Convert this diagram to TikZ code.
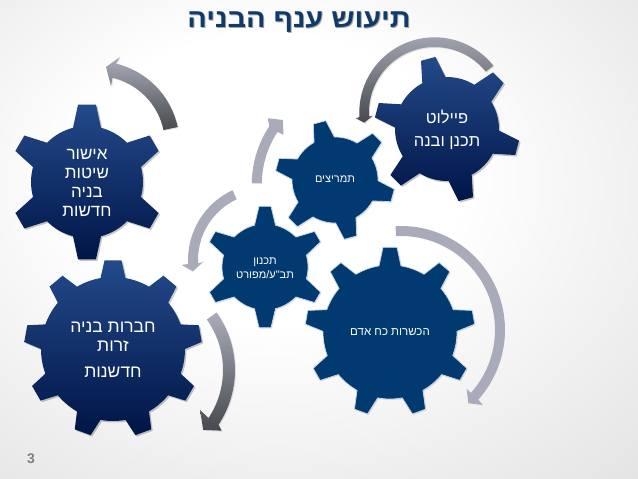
\documentclass[tikz,border=0pt]{standalone}
\usepackage{fontspec}
\setmainfont{Liberation Sans}
\newfontfamily\hebfont[Script=Hebrew]{Liberation Sans}
\newfontfamily\titlefont[Script=Hebrew,FakeStretch=1.11]{Liberation Sans}
\TeXXeTstate=1
\newcommand{\hb}[1]{\beginR #1\endR}
\definecolor{navyflat}{HTML}{003A70}
\definecolor{geartop}{HTML}{234A8A}
\definecolor{gearbot}{HTML}{001547}
\definecolor{arrlight}{HTML}{A9ABBA}
\definecolor{arrtop}{HTML}{AAACBA}
\definecolor{arrbot}{HTML}{47494E}
\definecolor{titleblue}{HTML}{0F3A6C}
\definecolor{gearedge}{HTML}{C8D8EA}
\pgfdeclareradialshading{bgsh}{\pgfpoint{-5bp}{8bp}}{color(0bp)=(white);color(15bp)=(white);color(50bp)=(black!15);color(75bp)=(black!20)}
% [style]{x}{y}{body r}{tip r}{start}{n}{tip half}{base half}
\newcommand{\gearplate}[9][]{%
  \pgfmathtruncatemacro{\gearlast}{#7-1}%
  \pgfmathsetmacro{\gearstep}{360/#7}%
  \pgfmathsetmacro{\geardb}{asin(#9/#4)}%
  \pgfmathsetmacro{\geardt}{atan(#8/#5)}%
  \path[#1,shift={(#2,#3)},y=1pt] (#6-\geardb:#4pt)
    \foreach \k in {0,...,\gearlast} {
      -- ({#6+\k*\gearstep-\geardt}:#5pt) -- ({#6+\k*\gearstep+\geardt}:#5pt)
      -- ({#6+\k*\gearstep+\geardb}:#4pt)
      arc[start angle={#6+\k*\gearstep+\geardb},end angle={#6+(\k+1)*\gearstep-\geardb},radius=#4pt]
    } -- cycle;%
}
% [style]{cx}{cy}{r outer}{r inner}{from}{to}{head points, outer barb to inner barb}
\newcommand{\arcarrow}[8][]{%
  \path[#1,shift={(#2,#3)},y=1pt] (#6:#4pt)
    arc[start angle=#6,end angle=#7,radius=#4pt] -- #8 -- (#7:#5pt)
    arc[start angle=#7,end angle=#6,radius=#5pt] -- cycle;%
}
\tikzset{
  shadowgear/.style={fill=black,opacity=.22},
  gradgear/.style={top color=geartop,bottom color=gearbot},
  flatgear/.style={fill=navyflat,draw=gearedge,line width=.7pt},
  geartext/.style={text=white,align=center,font=\hebfont},
  flatarrow/.style={fill=arrlight},
  gradarrow/.style={top color=arrtop,bottom color=arrbot},
  smallshadow/.style={fill=black,opacity=.10}
}
\begin{document}
\begin{tikzpicture}[x=1pt,y=-1pt]
\useasboundingbox (0,0) rectangle (638,479);
\shade[shading=bgsh] (0,0) rectangle (638,479);
% title
\node[text=black!35,font=\titlefont\bfseries\fontsize{26}{30}\selectfont] at (300,23) {\hb{תיעוש ענף הבניה}};
\node (title) [text=titleblue,font=\titlefont\bfseries\fontsize{26}{30}\selectfont] at (299,22) {\hb{תיעוש ענף הבניה}};
% arrows
\arcarrow[smallshadow]{97.5}{145.3}{83}{68.5}{12}{76.5}{(75:90.4pt) -- (83:77.9pt) -- (76:60pt)}
\arcarrow[gradarrow]{96.5}{144.3}{83}{68.5}{12}{76.5}{(75:90.4pt) -- (83:77.9pt) -- (76:60pt)}
\arcarrow[smallshadow]{435.5}{113.5}{75.2}{65.5}{38.5}{183.5}{(184.2:78.7pt) -- (188.3:71pt) -- (183:61.9pt)}
\arcarrow[gradarrow]{434.5}{112.5}{75.2}{65.5}{38.5}{183.5}{(184.2:78.7pt) -- (188.3:71pt) -- (183:61.9pt)}
\arcarrow[flatarrow]{356.8}{184.3}{105}{95}{179.5}{146.5}{(143.4:110.8pt) -- (139:98pt) -- (146:88.5pt)}
\arcarrow[flatarrow]{265}{260}{77}{67}{115}{183}{(183.4:83.5pt) -- (189:73pt) -- (181.6:61.7pt)}
\arcarrow[smallshadow]{137}{371}{99}{87}{35.5}{-33.5}{(-35.3:105pt) -- (-41.7:90pt) -- (-32:75.5pt)}
\arcarrow[gradarrow]{136}{370}{99}{87}{35.5}{-33.5}{(-35.3:105pt) -- (-41.7:90pt) -- (-32:75.5pt)}
\arcarrow[flatarrow]{401}{330}{104}{94}{93}{-42}{(-42.5:111pt) -- (-47.4:99.5pt) -- (-41.9:88.3pt)}
% gears
\gearplate[smallshadow]{391}{333}{67}{85}{90}{9}{7}{11}
\gearplate[flatgear]{390}{332}{67}{85}{90}{9}{7}{11}
\gearplate[smallshadow]{336}{181}{43}{60}{105}{6}{6.5}{10.5}
\gearplate[flatgear]{335}{180}{43}{60}{105}{6}{6.5}{10.5}
\gearplate[smallshadow]{266}{268}{43}{61}{90}{6}{6}{10.5}
\gearplate[flatgear]{265}{267}{43}{61}{90}{6}{6}{10.5}
\gearplate[shadowgear]{88.5}{183.5}{56}{78}{90}{6}{9}{14}
\gearplate[gradgear]{87}{182}{56}{78}{90}{6}{9}{14}
\gearplate[shadowgear]{114.5}{350.5}{72}{89}{90}{9}{8.5}{12.5}
\gearplate[gradgear]{113}{349}{72}{89}{90}{9}{8.5}{12.5}
\gearplate[shadowgear]{448.5}{130.5}{52}{73}{105}{6}{7.5}{12}
\gearplate[gradgear]{447}{129}{52}{73}{105}{6}{7.5}{12}
% labels
\node (g1) [geartext,font=\hebfont\fontsize{17}{19}\selectfont] at (87,183) {\hb{אישור}\\\hb{שיטות}\\\hb{בניה}\\\hb{חדשות}};
\node (g2a) [geartext,font=\hebfont\fontsize{17.5}{19}\selectfont] at (113,337) {\hb{חברות בניה}\\\hb{זרות}};
\node (g2b) [geartext,font=\hebfont\fontsize{17.5}{19}\selectfont] at (113,372) {\hb{חדשנות}};
\node (g3a) [geartext,font=\hebfont\fontsize{16.5}{19}\selectfont] at (447,117) {\hb{פיילוט}};
\node (g3b) [geartext,font=\hebfont\fontsize{16.5}{19}\selectfont] at (447,143) {\hb{תכנן ובנה}};
\node (g4) [geartext,font=\hebfont\fontsize{11}{13}\selectfont] at (335,179) {\hb{תמריצים}};
\node (g5) [geartext,font=\hebfont\fontsize{11}{14}\selectfont] at (265,268) {\hb{תכנון}\\\hb{תב"ע/מפורט}};
\node (g6) [geartext,font=\hebfont\fontsize{11.5}{13}\selectfont] at (390,332) {\hb{הכשרות כח אדם}};
\node (num) [text=black!50,font=\bfseries\fontsize{14}{16}\selectfont] at (31,459) {3};
\end{tikzpicture}
\end{document}
